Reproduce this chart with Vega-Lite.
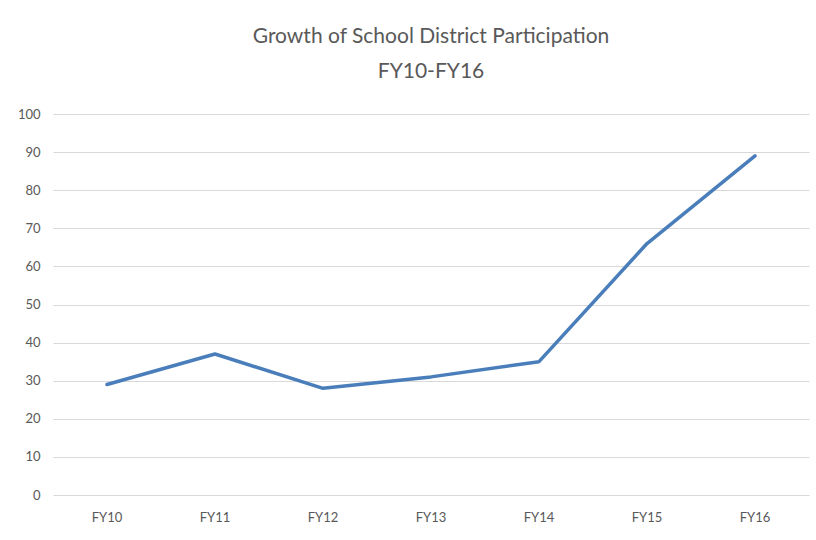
{
  "$schema": "https://vega.github.io/schema/vega-lite/v6.json",
  "autosize": "none",
  "width": 756,
  "height": 381,
  "padding": {"left": 53, "top": 114, "right": 7, "bottom": 45},
  "background": "white",
  "title": {
    "text": ["Growth of School District Participation", "FY10-FY16"],
    "anchor": "middle",
    "font": "Lato",
    "fontSize": 21,
    "fontWeight": "normal",
    "color": "#595959",
    "lineHeight": 35,
    "offset": 26
  },
  "config": {
    "view": {"stroke": null},
    "font": "Lato"
  },
  "data": {
    "values": [
      {"year": "FY10", "value": 29},
      {"year": "FY11", "value": 37},
      {"year": "FY12", "value": 28},
      {"year": "FY13", "value": 31},
      {"year": "FY14", "value": 35},
      {"year": "FY15", "value": 66},
      {"year": "FY16", "value": 89}
    ]
  },
  "mark": {"type": "line", "color": "#4A7EBB", "strokeWidth": 3.5, "strokeCap": "round", "strokeJoin": "round"},
  "encoding": {
    "x": {
      "field": "year", "type": "ordinal", "title": null,
      "scale": {"type": "band", "paddingInner": 0, "paddingOuter": 0},
      "axis": {"labelAngle": 0, "domain": false, "ticks": false, "labelPadding": 16, "labelFontSize": 13, "labelColor": "#595959", "grid": false}
    },
    "y": {
      "field": "value", "type": "quantitative", "title": null,
      "scale": {"domain": [0, 100], "nice": false},
      "axis": {"values": [0,10,20,30,40,50,60,70,80,90,100], "domain": false, "ticks": false, "labelPadding": 13, "labelFontSize": 13, "labelColor": "#595959", "gridColor": "#D9D9D9", "gridWidth": 1}
    }
  }
}
